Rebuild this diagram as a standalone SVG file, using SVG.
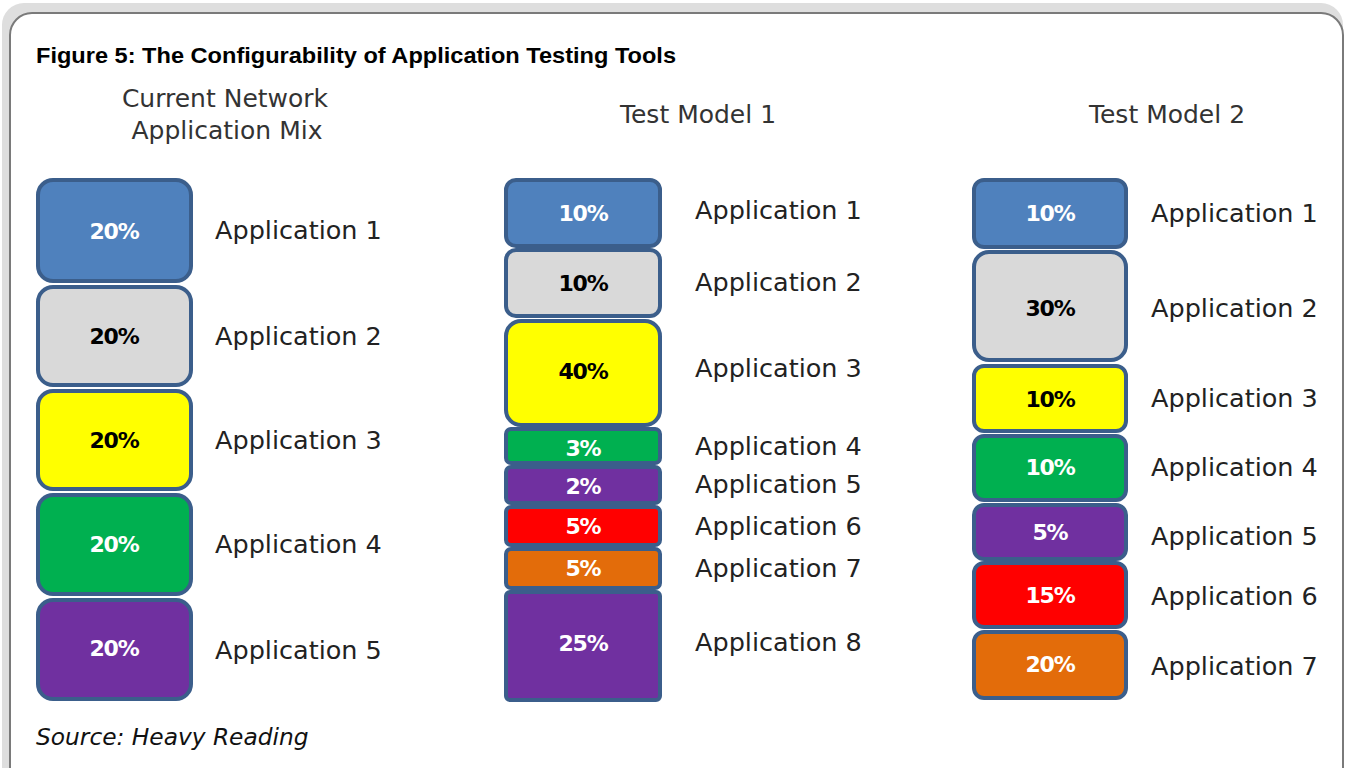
<svg xmlns="http://www.w3.org/2000/svg" width="1345" height="768" viewBox="0 0 1345 768">
<style>
.bx{stroke:#3b5e8b;stroke-width:4}
.pw{font-family:"DejaVu Sans","Liberation Sans",sans-serif;font-weight:bold;font-size:22px;fill:#fff;text-anchor:middle;letter-spacing:-1.2px}
.pk{font-family:"DejaVu Sans","Liberation Sans",sans-serif;font-weight:bold;font-size:22px;fill:#000;text-anchor:middle;letter-spacing:-1.2px}
.lb{font-family:"DejaVu Sans","Liberation Sans",sans-serif;font-size:25.5px;fill:#222}
.hd{font-family:"DejaVu Sans","Liberation Sans",sans-serif;font-size:25px;fill:#333;text-anchor:middle}
.blue{fill:#4f81bd}.gray{fill:#d9d9d9}.yel{fill:#ffff00}.grn{fill:#00b050}.pur{fill:#7030a0}.red{fill:#ff0000}.org{fill:#e36c0a}
</style>
<rect x="2" y="3" width="1341" height="790" rx="22" fill="#dedede"/>
<rect x="10" y="13" width="1333" height="780" rx="22" fill="#fff" stroke="#7a7a7a" stroke-width="2"/>
<text x="36" y="63" font-family="Liberation Sans, Arial, sans-serif" font-weight="bold" font-size="22" fill="#000" textLength="640" lengthAdjust="spacingAndGlyphs">Figure 5: The Configurability of Application Testing Tools</text>
<text class="hd" x="225" y="107">Current Network</text>
<text class="hd" x="227" y="139">Application Mix</text>
<text class="hd" x="698" y="123">Test Model 1</text>
<text class="hd" x="1167" y="123">Test Model 2</text>

<g id="c1-a1"><rect class="bx blue" x="38" y="180" width="153" height="101" rx="15"/><text class="pw" x="114" y="239">20%</text><text class="lb" x="215" y="239">Application 1</text></g>
<g id="c1-a2"><rect class="bx gray" x="38" y="287" width="153" height="98" rx="15"/><text class="pk" x="114" y="344">20%</text><text class="lb" x="215" y="345">Application 2</text></g>
<g id="c1-a3"><rect class="bx yel" x="38" y="391" width="153" height="98" rx="15"/><text class="pk" x="114" y="448">20%</text><text class="lb" x="215" y="449">Application 3</text></g>
<g id="c1-a4"><rect class="bx grn" x="38" y="495" width="153" height="99" rx="15"/><text class="pw" x="114" y="552">20%</text><text class="lb" x="215" y="553">Application 4</text></g>
<g id="c1-a5"><rect class="bx pur" x="38" y="600" width="153" height="99" rx="15"/><text class="pw" x="114" y="656">20%</text><text class="lb" x="215" y="659">Application 5</text></g>

<g id="c2-a1"><rect class="bx blue" x="506" y="180" width="154" height="66" rx="10"/><text class="pw" x="583" y="221">10%</text><text class="lb" x="695" y="219">Application 1</text></g>
<g id="c2-a2"><rect class="bx gray" x="506" y="250" width="154" height="66" rx="10"/><text class="pk" x="583" y="291">10%</text><text class="lb" x="695" y="291">Application 2</text></g>
<g id="c2-a3"><rect class="bx yel" x="506" y="321" width="154" height="104" rx="15"/><text class="pk" x="583" y="379">40%</text><text class="lb" x="695" y="377">Application 3</text></g>
<g id="c2-a4"><rect class="bx grn" x="506" y="429" width="154" height="34" rx="5"/><text class="pw" x="583" y="456">3%</text><text class="lb" x="695" y="455">Application 4</text></g>
<g id="c2-a5"><rect class="bx pur" x="506" y="467" width="154" height="36" rx="5"/><text class="pw" x="583" y="494">2%</text><text class="lb" x="695" y="493">Application 5</text></g>
<g id="c2-a6"><rect class="bx red" x="506" y="507" width="154" height="38" rx="5"/><text class="pw" x="583" y="534">5%</text><text class="lb" x="695" y="535">Application 6</text></g>
<g id="c2-a7"><rect class="bx org" x="506" y="549" width="154" height="39" rx="5"/><text class="pw" x="583" y="576">5%</text><text class="lb" x="695" y="577">Application 7</text></g>
<g id="c2-a8"><rect class="bx pur" x="506" y="592" width="154" height="108" rx="4"/><text class="pw" x="583" y="651">25%</text><text class="lb" x="695" y="651">Application 8</text></g>

<g id="c3-a1"><rect class="bx blue" x="974" y="180" width="152" height="67" rx="10"/><text class="pw" x="1050" y="221">10%</text><text class="lb" x="1151" y="222">Application 1</text></g>
<g id="c3-a2"><rect class="bx gray" x="974" y="252" width="152" height="108" rx="15"/><text class="pk" x="1050" y="316">30%</text><text class="lb" x="1151" y="317">Application 2</text></g>
<g id="c3-a3"><rect class="bx yel" x="974" y="366" width="152" height="65" rx="10"/><text class="pk" x="1050" y="407">10%</text><text class="lb" x="1151" y="407">Application 3</text></g>
<g id="c3-a4"><rect class="bx grn" x="974" y="436" width="152" height="64" rx="10"/><text class="pw" x="1050" y="475">10%</text><text class="lb" x="1151" y="476">Application 4</text></g>
<g id="c3-a5"><rect class="bx pur" x="974" y="505" width="152" height="54" rx="10"/><text class="pw" x="1050" y="540">5%</text><text class="lb" x="1151" y="545">Application 5</text></g>
<g id="c3-a6"><rect class="bx red" x="974" y="563" width="152" height="64" rx="10"/><text class="pw" x="1050" y="603">15%</text><text class="lb" x="1151" y="605">Application 6</text></g>
<g id="c3-a7"><rect class="bx org" x="974" y="632" width="152" height="66" rx="10"/><text class="pw" x="1050" y="672">20%</text><text class="lb" x="1151" y="675">Application 7</text></g>

<text x="36" y="745" font-family="DejaVu Sans, Liberation Sans, sans-serif" font-style="italic" font-size="23.3" fill="#111">Source: Heavy Reading</text>
</svg>
